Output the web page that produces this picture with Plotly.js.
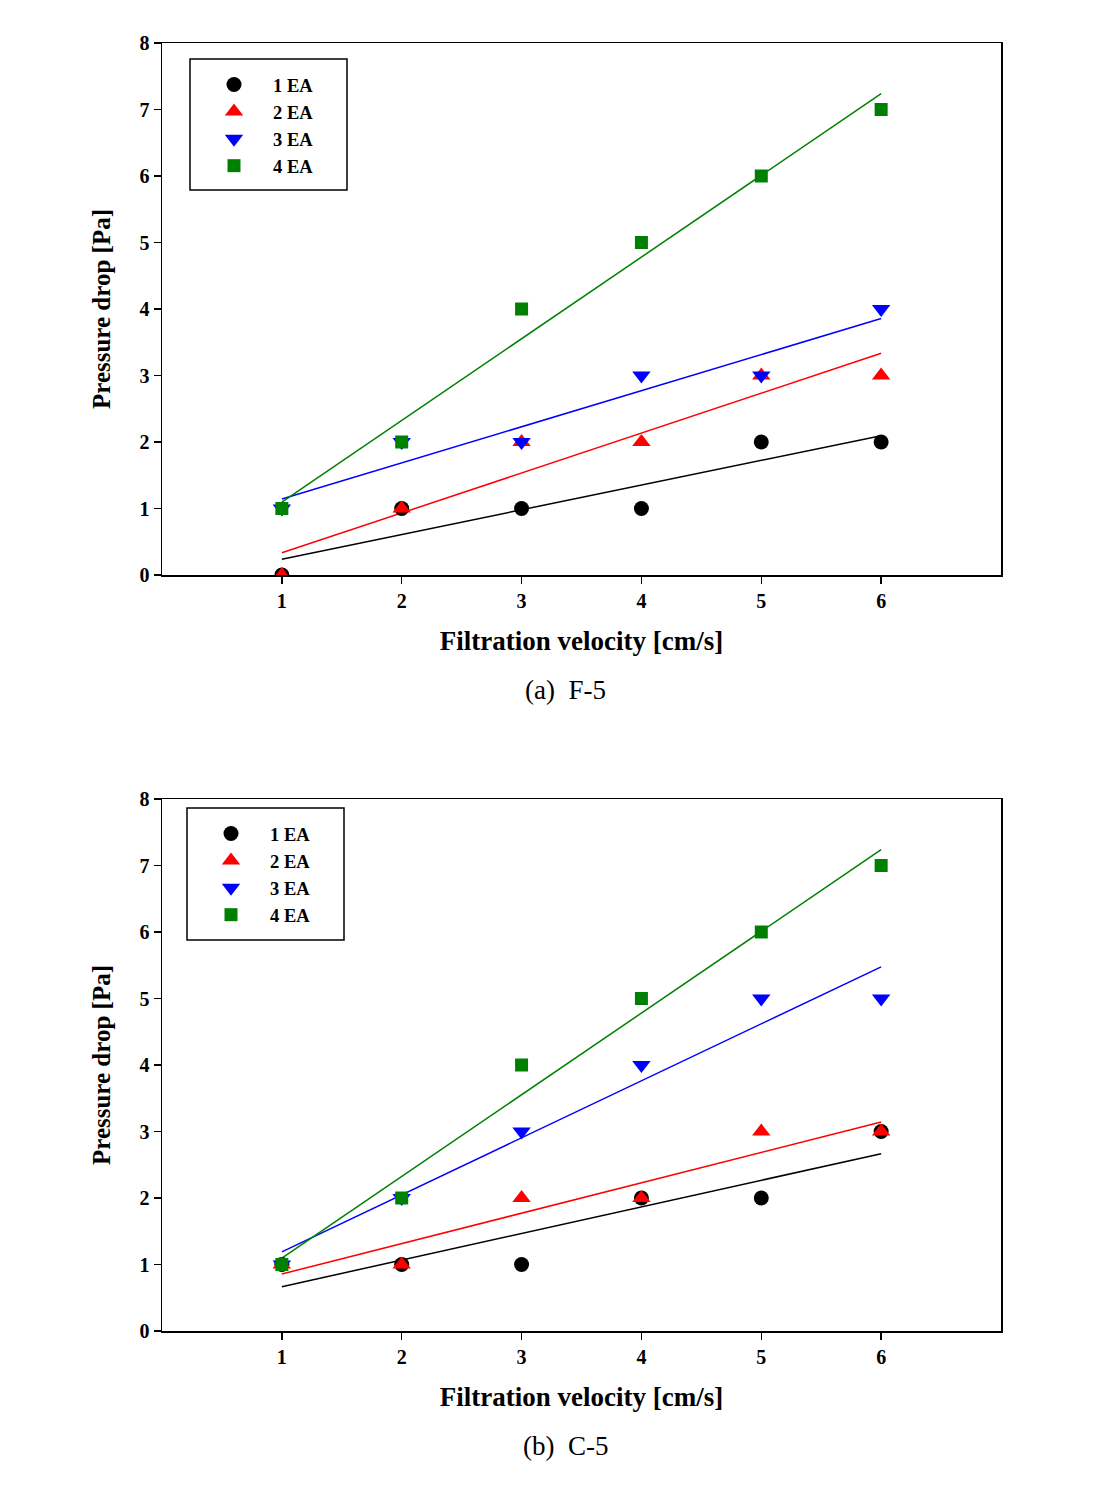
<!DOCTYPE html>
<html>
<head>
<meta charset="utf-8">
<script src="https://cdn.plot.ly/plotly-3.0.1.min.js"></script>
<style>html,body{margin:0;padding:0;background:#fff;}#chart{width:1110px;height:1495px;}</style>
</head>
<body>
<div id="chart"></div>
<script>
// ---- data ----
const velocity = [1, 2, 3, 4, 5, 6];
const seriesNames = ["1 EA", "2 EA", "3 EA", "4 EA"];
// (a) F-5
const f5_1EA = [0, 1, 1, 1, 2, 2];
const f5_2EA = [0, 1, 2, 2, 3, 3];
const f5_3EA = [1, 2, 2, 3, 3, 4];
const f5_4EA = [1, 2, 4, 5, 6, 7];
// (b) C-5
const c5_1EA = [1, 1, 1, 2, 2, 3];
const c5_2EA = [1, 1, 2, 2, 3, 3];
const c5_3EA = [1, 2, 3, 4, 5, 5];
const c5_4EA = [1, 2, 4, 5, 6, 7];
const xTicks = [1, 2, 3, 4, 5, 6];
const yTicks = [0, 1, 2, 3, 4, 5, 6, 7, 8];
const captions = ["(a)  F-5", "(b)  C-5"];

// ---- styling ----
const colors = ["#000000", "#ff0000", "#0000ff", "#008000"];
const symbols = ["circle", "triangle-up", "triangle-down", "square"];
const sizes = [15, 16, 16, 13];
const FONT = "Liberation Serif";

function linfit(x, y) {
  const n = x.length;
  const mx = x.reduce((a, b) => a + b, 0) / n;
  const my = y.reduce((a, b) => a + b, 0) / n;
  let sxy = 0, sxx = 0;
  for (let i = 0; i < n; i++) { sxy += (x[i] - mx) * (y[i] - my); sxx += (x[i] - mx) ** 2; }
  const b = sxy / sxx, a = my - b * mx;
  return x.map(v => a + b * v);
}

const traces = [];
function addPanel(sets, xa, ya, legendId) {
  sets.forEach((ys, i) => {
    traces.push({
      x: velocity, y: linfit(velocity, ys), xaxis: xa, yaxis: ya,
      mode: "lines", line: {color: colors[i], width: 1.5},
      showlegend: false, hoverinfo: "skip"
    });
  });
  sets.forEach((ys, i) => {
    traces.push({
      x: velocity, y: ys, xaxis: xa, yaxis: ya, name: seriesNames[i],
      mode: "markers", legend: legendId,
      marker: {color: colors[i], symbol: symbols[i], size: sizes[i], line: {width: 0}}
    });
  });
}
addPanel([f5_1EA, f5_2EA, f5_3EA, f5_4EA], "x", "y", "legend");
addPanel([c5_1EA, c5_2EA, c5_3EA, c5_4EA], "x2", "y2", "legend2");

const W = 1110, H = 1495;
const xDom = [162 / W, 1001 / W];
const yDomA = [1 - 575 / H, 1 - 43 / H];
const yDomB = [1 - 1331 / H, 1 - 799 / H];

function xAxis(anchor) {
  return {
    domain: xDom, anchor: anchor, range: [0, 7], tickvals: xTicks,
    ticks: "outside", ticklen: 7, tickwidth: 1.5, tickcolor: "#000",
    showline: true, linecolor: "#000", linewidth: 1.5, mirror: true,
    showgrid: false, zeroline: false,
    tickfont: {family: FONT, size: 20, color: "#000", weight: "bold"},
    title: {text: "<b>Filtration velocity [cm/s]</b>", font: {family: FONT, size: 27, color: "#000"}, standoff: 20}
  };
}
function yAxis(anchor, dom) {
  return {
    domain: dom, anchor: anchor, range: [0, 8], tickvals: yTicks,
    ticks: "outside", ticklen: 7, tickwidth: 1.5, tickcolor: "#000",
    showline: true, linecolor: "#000", linewidth: 1.5, mirror: true,
    showgrid: false, zeroline: false,
    tickfont: {family: FONT, size: 20, color: "#000", weight: "bold"},
    title: {text: "<b>Pressure drop [Pa]</b>", font: {family: FONT, size: 25, color: "#000"}, standoff: 22}
  };
}
function legendBox(x, y) {
  return {
    x: x, y: y, xanchor: "left", yanchor: "top", xref: "paper", yref: "paper",
    bgcolor: "rgba(0,0,0,0)", borderwidth: 0,
    font: {family: FONT, size: 18.5, color: "#000", weight: "bold"},
    itemwidth: 68
  };
}
function boxShape(x0, y0, x1, y1) {
  return {type: "rect", xref: "paper", yref: "paper",
    x0: x0 / W, x1: x1 / W, y0: 1 - y0 / H, y1: 1 - y1 / H,
    line: {color: "#000", width: 1.5}, fillcolor: "rgba(0,0,0,0)", layer: "above"};
}

const layout = {
  width: W, height: H, margin: {l: 0, r: 0, t: 0, b: 0},
  paper_bgcolor: "#fff", plot_bgcolor: "#fff", showlegend: true,
  xaxis: xAxis("y"), yaxis: yAxis("x", yDomA),
  xaxis2: xAxis("y2"), yaxis2: yAxis("x2", yDomB),
  legend: legendBox(195 / W, 1 - 66 / H),
  legend2: legendBox(192 / W, 1 - 815 / H),
  shapes: [boxShape(190, 59, 347, 190), boxShape(187, 808, 344, 940)],
  annotations: [
    {text: captions[0], xref: "paper", yref: "paper", x: 565 / W, y: 1 - 690 / H, showarrow: false,
     xanchor: "center", yanchor: "middle", font: {family: FONT, size: 27, color: "#000"}},
    {text: captions[1], xref: "paper", yref: "paper", x: 565 / W, y: 1 - 1446 / H, showarrow: false,
     xanchor: "center", yanchor: "middle", font: {family: FONT, size: 27, color: "#000"}}
  ]
};

Plotly.newPlot("chart", traces, layout, {displayModeBar: false, staticPlot: true});
</script>
</body>
</html>
